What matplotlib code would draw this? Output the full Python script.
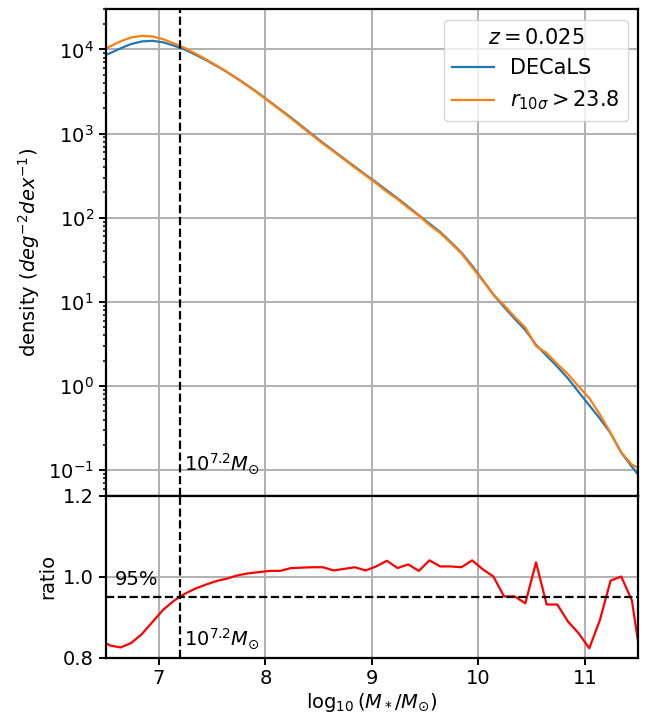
import numpy as np
import matplotlib
matplotlib.use("Agg")
import matplotlib.pyplot as plt

plt.rcParams["font.size"] = 14
plt.rcParams["lines.linewidth"] = 1.6
plt.rcParams["axes.linewidth"] = 1.6
plt.rcParams["grid.linewidth"] = 1.4
plt.rcParams["xtick.major.width"] = 1.4
plt.rcParams["ytick.major.width"] = 1.4
plt.rcParams["ytick.minor.width"] = 1.1
plt.rcParams["xtick.major.size"] = 5
plt.rcParams["ytick.major.size"] = 5

# bin centres of log10 stellar mass
mass = [6.44, 6.54, 6.64, 6.74, 6.84, 6.94, 7.04, 7.14, 7.24, 7.34,
        7.44, 7.54, 7.64, 7.74, 7.84, 7.94, 8.04, 8.14, 8.24, 8.34,
        8.44, 8.54, 8.64, 8.74, 8.84, 8.94, 9.04, 9.14, 9.24, 9.34,
        9.44, 9.54, 9.64, 9.74, 9.84, 9.94, 10.04, 10.14, 10.24, 10.34,
        10.44, 10.54, 10.64, 10.74, 10.84, 10.94, 11.04, 11.14, 11.24, 11.34,
        11.44, 11.54]

# DECaLS number density (deg^-2 dex^-1)
decals = [8030, 9000, 10300, 11600, 12450, 12650, 12150, 11100, 10000, 8700,
          7500, 6380, 5370, 4470, 3670, 2990, 2400, 1930, 1550, 1230,
          977, 776, 624, 501, 403, 324, 263, 211, 170, 135,
          107, 85, 67.6, 51.3, 38.5, 26.9, 18.2, 12.2, 8.7, 6.3,
          4.62, 3.09, 2.29, 1.70, 1.23, 0.85, 0.59, 0.41, 0.275, 0.162,
          0.110, 0.076]

# ratio DECaLS / deep (r_10sigma > 23.8)
ratio = [0.845, 0.830, 0.825, 0.836, 0.858, 0.888, 0.918, 0.940, 0.957, 0.970,
         0.980, 0.989, 0.995, 1.003, 1.008, 1.011, 1.014, 1.014, 1.021, 1.022,
         1.023, 1.023, 1.015, 1.019, 1.023, 1.015, 1.025, 1.039, 1.021, 1.030,
         1.014, 1.040, 1.025, 1.025, 1.023, 1.040, 1.018, 1.000, 0.951, 0.951,
         0.934, 1.035, 0.931, 0.931, 0.889, 0.860, 0.823, 0.893, 0.990, 1.000,
         0.941, 0.766]

mass = np.array(mass)
decals = np.array(decals)
ratio = np.array(ratio)
deep = decals / ratio

mass_cut = 7.2

fig, (ax1, ax2) = plt.subplots(2, 1, figsize=(6.48, 7.14), dpi=100, sharex=True,
                               gridspec_kw={"height_ratios": [3, 1], "hspace": 0})
fig.subplots_adjust(left=0.163, right=0.985, top=0.987, bottom=0.079)

ax1.plot(mass, decals, color="C0", label="DECaLS")
ax1.plot(mass, deep, color="C1", label=r"$r_{10\sigma} > 23.8$")
ax1.axvline(mass_cut, color="k", ls="--")
ax1.set_yscale("log")
ax1.set_ylim(0.05, 3e4)
ax1.set_ylabel(r"density ($deg^{-2} dex^{-1}$)")
ax1.text(mass_cut + 0.04, 0.1, r"$10^{7.2}M_{\odot}$")
ax1.legend(title=r"$z = 0.025$", loc="upper right", fontsize=15, title_fontsize=15)
ax1.grid(True)
ax1.tick_params(labelbottom=False)

ax2.plot(mass, ratio, color="r")
ax2.axvline(mass_cut, color="k", ls="--")
ax2.axhline(0.95, color="k", ls="--")
ax2.text(6.59, 0.98, "95%")
ax2.text(mass_cut + 0.04, 0.83, r"$10^{7.2}M_{\odot}$")
ax2.set_ylim(0.8, 1.2)
ax2.set_yticks([0.8, 1.0, 1.2])
ax2.set_xlim(6.5, 11.5)
ax2.set_ylabel("ratio")
ax2.set_xlabel(r"$\log_{10}(M_*/M_{\odot})$", labelpad=2)
ax2.grid(True)

plt.savefig("out.png")
